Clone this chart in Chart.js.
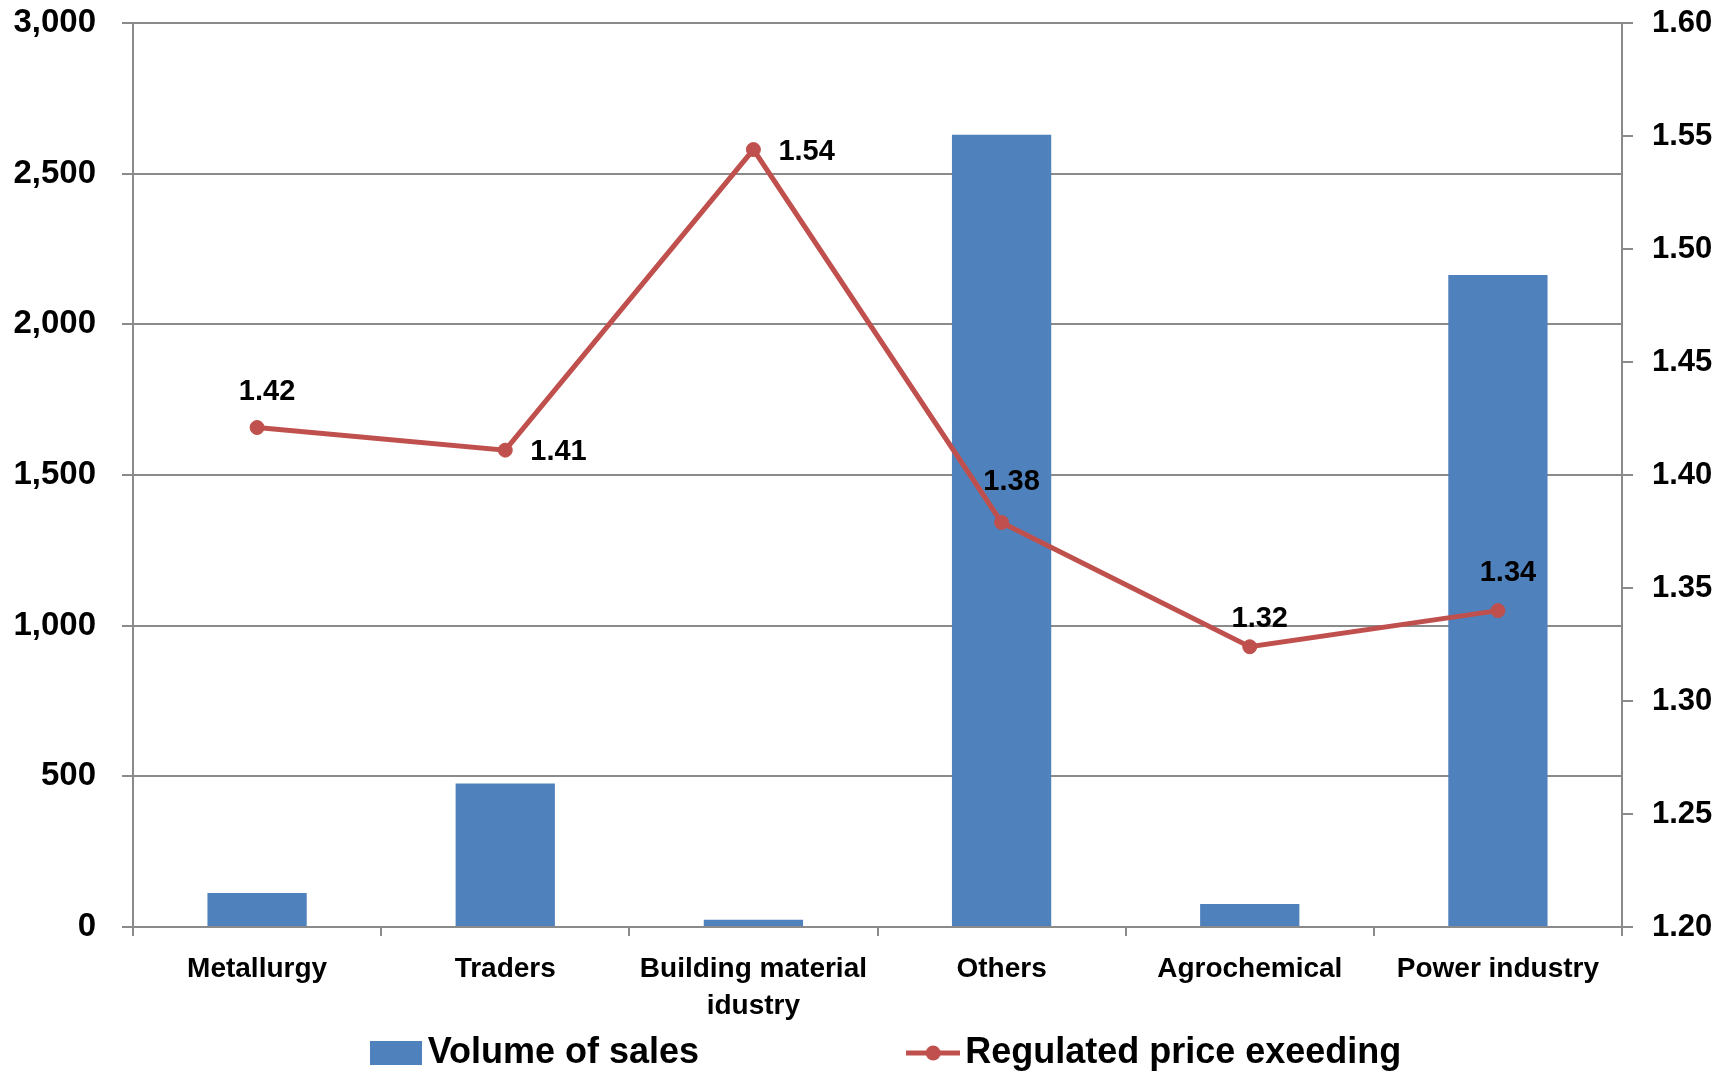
<!DOCTYPE html>
<html>
<head>
<meta charset="utf-8">
<script src="https://cdn.jsdelivr.net/npm/chart.js@4/dist/chart.umd.min.js"></script>
<style>
  html, body { margin: 0; padding: 0; background: #fff; }
  #wrap { width: 1727px; height: 1073px; position: relative; }
</style>
</head>
<body>
<div id="wrap"><canvas id="salesChart"></canvas></div>
<script>
const categories = ["Metallurgy", "Traders", ["Building material", "idustry"], "Others", "Agrochemical", "Power industry"];
const salesVolume = [113, 476, 24, 2629, 76, 2164];
const priceExceeding = [1.421, 1.411, 1.544, 1.379, 1.324, 1.340];
const seriesNames = ["Volume of sales", "Regulated price exeeding"];

// where each value label sits relative to its point (placement only)
const labelSides = ["top", "right", "right", "top", "top", "top"];
const labelGaps = [36, 25, 25, 40, 28, 38];

const FONT = '"Liberation Sans", Arial, sans-serif';
const BAR_COLOR = "#4F81BD";
const LINE_COLOR = "#C0504D";
const GRID_COLOR = "#8a8a8a";

// legend markers drawn as small images
function makeMarker(w, h, draw) {
  const c = document.createElement("canvas");
  c.width = w;
  c.height = h;
  draw(c.getContext("2d"));
  return c;
}
const barMarker = makeMarker(52, 24, (c) => {
  c.fillStyle = BAR_COLOR;
  c.fillRect(0, 0, 52, 24);
});
const lineMarker = makeMarker(54, 18, (c) => {
  c.strokeStyle = LINE_COLOR;
  c.lineWidth = 5;
  c.beginPath();
  c.moveTo(0, 9);
  c.lineTo(54, 9);
  c.stroke();
  c.fillStyle = LINE_COLOR;
  c.beginPath();
  c.arc(27, 9, 7.5, 0, Math.PI * 2);
  c.fill();
});
const blankMarker = makeMarker(1, 1, () => {});

// value labels next to the line points
const pointLabels = {
  id: "pointLabels",
  afterDatasetsDraw(chart) {
    const meta = chart.getDatasetMeta(1);
    const ctx = chart.ctx;
    ctx.save();
    ctx.font = "bold 29px " + FONT;
    ctx.fillStyle = "#000";
    ctx.textBaseline = "middle";
    meta.data.forEach((pt, i) => {
      const text = priceExceeding[i].toFixed(2);
      if (labelSides[i] === "right") {
        ctx.textAlign = "left";
        ctx.fillText(text, pt.x + labelGaps[i], pt.y + 2);
      } else {
        ctx.textAlign = "center";
        ctx.fillText(text, pt.x + 10, pt.y - labelGaps[i]);
      }
    });
    ctx.restore();
  },
};

const ctx = document.getElementById("salesChart").getContext("2d");

new Chart(ctx, {
  data: {
    labels: categories,
    datasets: [
      {
        type: "bar",
        label: seriesNames[0],
        data: salesVolume,
        backgroundColor: BAR_COLOR,
        borderWidth: 0,
        barPercentage: 0.4,
        categoryPercentage: 1,
        yAxisID: "y",
        order: 1,
      },
      {
        type: "line",
        label: seriesNames[1],
        data: priceExceeding,
        borderColor: LINE_COLOR,
        backgroundColor: LINE_COLOR,
        borderWidth: 5,
        pointRadius: 7,
        pointBorderWidth: 1,
        pointBackgroundColor: LINE_COLOR,
        tension: 0,
        yAxisID: "y1",
        order: 0,
      },
    ],
  },
  options: {
    responsive: true,
    maintainAspectRatio: false,
    animation: false,
    layout: {
      padding: { top: 23, right: 0, bottom: -8, left: 0 },
    },
    scales: {
      x: {
        type: "category",
        offset: true,
        grid: {
          offset: true,
          drawOnChartArea: false,
          drawTicks: true,
          tickLength: 9,
          color: GRID_COLOR,
          lineWidth: 2,
        },
        border: { display: true, color: GRID_COLOR, width: 2 },
        ticks: {
          color: "#000",
          font: { family: FONT, size: 28, weight: "bold", lineHeight: 1.35 },
          padding: 14,
          maxRotation: 0,
          autoSkip: false,
        },
        afterFit: (scale) => {
          scale.height = 98;
        },
      },
      y: {
        position: "left",
        min: 0,
        max: 3000,
        ticks: {
          stepSize: 500,
          color: "#000",
          font: { family: FONT, size: 33, weight: "bold" },
          padding: 26,
          callback: (v) => v.toLocaleString("en-US"),
        },
        grid: { color: GRID_COLOR, lineWidth: 2, tickLength: 11 },
        border: { display: true, color: GRID_COLOR, width: 2 },
        afterFit: (scale) => {
          scale.width = 133;
          scale.paddingTop = 0;
        },
      },
      y1: {
        position: "right",
        min: 1.2,
        max: 1.6,
        ticks: {
          stepSize: 0.05,
          color: "#000",
          font: { family: FONT, size: 31, weight: "bold" },
          padding: 19,
          callback: (v) => Number(v).toFixed(2),
        },
        grid: { drawOnChartArea: false, drawTicks: true, tickLength: 11, color: GRID_COLOR, lineWidth: 2 },
        border: { display: true, color: GRID_COLOR, width: 2 },
        afterFit: (scale) => {
          scale.width = 105;
          scale.paddingTop = 0;
        },
      },
    },
    plugins: {
      tooltip: { enabled: false },
      legend: {
        position: "bottom",
        labels: {
          color: "#000",
          font: { family: FONT, size: 36, weight: "bold" },
          usePointStyle: true,
          pointStyleWidth: 28,
          boxHeight: 24,
          padding: 10,
          sort: (a, b) => a.datasetIndex - b.datasetIndex,
          generateLabels: (chart) => {
            const items = Chart.defaults.plugins.legend.labels.generateLabels(chart);
            items.forEach((item) => {
              if (item.datasetIndex === 0) {
                item.pointStyle = barMarker;
                item.text = item.text + "\u00a0".repeat(21);
              } else {
                item.pointStyle = lineMarker;
              }
            });
            // empty spacer so the two entries sit where the original has them
            items.unshift({
              text: "",
              datasetIndex: -1,
              pointStyle: blankMarker,
              fillStyle: "rgba(0,0,0,0)",
              strokeStyle: "rgba(0,0,0,0)",
              lineWidth: 0,
              hidden: false,
            });
            return items;
          },
        },
      },
    },
  },
  plugins: [pointLabels],
});
</script>
</body>
</html>
